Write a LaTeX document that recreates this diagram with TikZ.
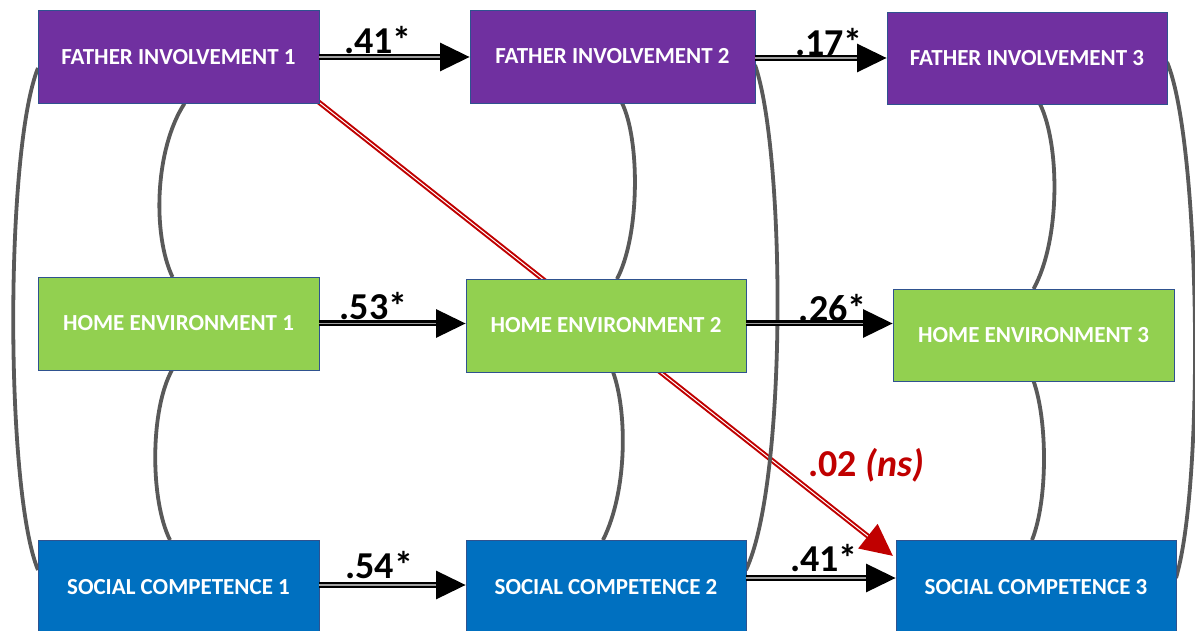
\documentclass[tikz,border=0pt]{standalone}
\usepackage{fontspec}
\setmainfont{Carlito}
\usetikzlibrary{arrows.meta,calc,backgrounds}
\definecolor{fipurple}{HTML}{7030A0}
\definecolor{hegreen}{HTML}{92D050}
\definecolor{scblue}{HTML}{0070C0}
\definecolor{edgeblue}{HTML}{2F528F}
\definecolor{corrgray}{HTML}{595959}
\definecolor{pathred}{HTML}{C00000}
\definecolor{innergray}{HTML}{A0A0A0}
\tikzset{
  varbox/.style={draw=edgeblue, line width=0.8pt, minimum width=281pt, minimum height=93pt,
    inner sep=0pt, outer sep=0pt, text=white, font=\fontsize{23}{27}\selectfont\bfseries},
  corr/.style={draw=corrgray, line width=3.8pt},
  effect/.style={draw=black, line width=6pt, -{Triangle[length=30pt,width=27pt]},
    postaction={draw=innergray, line width=1.6pt, -, shorten >=30pt}},
  crosseffect/.style={draw=pathred, line width=5pt, -{Triangle[length=32pt,width=30pt]},
    postaction={draw=white, line width=1pt, -, shorten >=32pt}},
  coef/.style={font=\fontsize{38}{42}\selectfont\bfseries, inner sep=0pt},
}
\begin{document}
\begin{tikzpicture}[x=1pt,y=-1pt]
\useasboundingbox (0,0) rectangle (1195,631);
\clip (0,0) rectangle (1195,631);

% variables at the three waves
\node[varbox, fill=fipurple] (fi1) at (178.5,57) {FATHER INVOLVEMENT 1};
\node[varbox, fill=fipurple, minimum width=285pt] (fi2) at (612.5,56.5) {FATHER INVOLVEMENT 2};
\node[varbox, fill=fipurple, minimum width=280pt, minimum height=92pt] (fi3) at (1027,58) {FATHER INVOLVEMENT 3};
\node[varbox, fill=hegreen] (he1) at (178.5,323.5) {HOME ENVIRONMENT 1};
\node[varbox, fill=hegreen, minimum width=280pt] (he2) at (606,325.5) {HOME ENVIRONMENT 2};
\node[varbox, fill=hegreen, minimum height=92pt] (he3) at (1033.5,335) {HOME ENVIRONMENT 3};
\node[varbox, fill=scblue, minimum height=94pt] (sc1) at (178.5,587) {SOCIAL COMPETENCE 1};
\node[varbox, fill=scblue, minimum width=280pt, minimum height=94pt] (sc2) at (606,587) {SOCIAL COMPETENCE 2};
\node[varbox, fill=scblue, minimum width=280pt, minimum height=94pt] (sc3) at (1036,587) {SOCIAL COMPETENCE 3};

\begin{pgfonlayer}{background}
  \fill[white] (0,0) rectangle (1195,631);
  % cross-lagged path from wave 1 to wave 3
  \draw[crosseffect] ([shift={(-1pt,2pt)}]fi1.south east) -- ([shift={(-3pt,-16pt)}]sc3.north west);
  % within-wave correlations
  \draw[corr] ([xshift=6pt]fi1.south) .. controls +(-30,46) and +(-20,-42) .. ([xshift=-6pt]he1.north);
  \draw[corr] ([xshift=-6.5pt]he1.south) .. controls +(-22,40) and +(-20,-40) .. ([xshift=-8.5pt]sc1.north);
  \draw[corr] ([yshift=-11pt]fi1.west) .. controls +(-33,82) and +(-33,-80) .. ([yshift=17pt]sc1.west);
  \draw[corr] ([xshift=9.5pt]fi2.south) .. controls +(18,37) and +(23,-44) .. ([xshift=11pt]he2.north);
  \draw[corr] ([xshift=7pt]he2.south) .. controls +(14,38) and +(25,-50) .. ([xshift=-3pt]sc2.north);
  \draw[corr] ([yshift=-8.5pt]fi2.east) .. controls +(30,85) and +(42,-90) .. ([yshift=17pt]sc2.east);
  \draw[corr] ([xshift=13pt]fi3.south) .. controls +(20,41) and +(27,-49) .. (he3.north);
  \draw[corr] (he3.south) .. controls +(14,39) and +(16,-40) .. ([xshift=-4pt]sc3.north);
  \draw[corr] ([yshift=-4pt]fi3.east) .. controls +(33,78) and +(29,-98) .. ([yshift=9pt]sc3.east);
\end{pgfonlayer}

% autoregressive paths
\draw[effect] (fi1.east) -- (fi1.east -| fi2.west) node[coef, pos=0.39, yshift=17pt] {.41*};
\draw[effect] ([yshift=-1.5pt]fi2.east) -- ([yshift=-1.5pt]fi2.east -| fi3.west) node[coef, pos=0.56, yshift=16pt] {.17*};
\draw[effect] (he1.east) -- (he1.east -| he2.west) node[coef, pos=0.37, yshift=17pt] {.53*};
\draw[effect] ([yshift=2pt]he2.east) -- ([yshift=2pt]he2.east -| he3.west) node[coef, pos=0.59, yshift=15pt] {.26*};
\draw[effect] ([yshift=2pt]sc1.east) -- ([yshift=2pt]sc1.east -| sc2.west) node[coef, pos=0.41, yshift=20pt] {.54*};
\draw[effect] ([yshift=9pt]sc2.east) -- ([yshift=9pt]sc2.east -| sc3.west) node[coef, pos=0.52, yshift=20pt] {.41*};

\node[coef, text=pathred] (nslabel) at ($(sc3.north west)+(-30,-75)$) {.02 \textit{(ns)}};
\end{tikzpicture}
\end{document}
